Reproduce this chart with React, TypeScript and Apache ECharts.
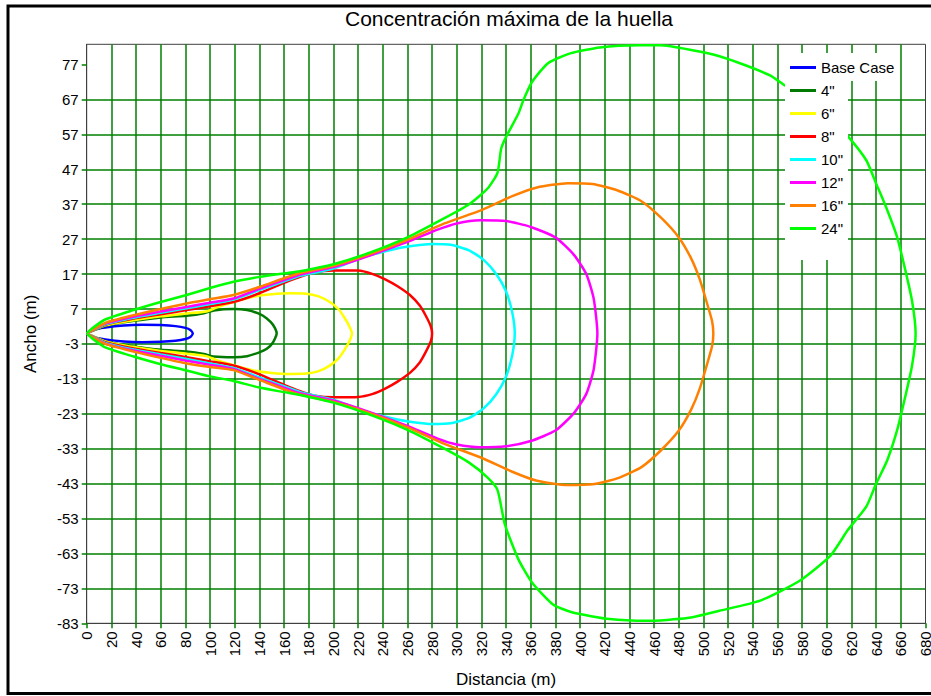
import { useEffect, useRef } from "react";
import * as echarts from "echarts";

const TITLE = "Concentración máxima de la huella";
const X_NAME = "Distancia (m)";
const Y_NAME = "Ancho (m)";
const X_MIN = 0;
const X_MAX = 680;
const X_STEP = 20;
const Y_TICKS = [-83, -73, -63, -53, -43, -33, -23, -13, -3, 7, 17, 27, 37, 47, 57, 67, 77];
const Y_TOP = 82.8;
const Y_STEP = 10;

const SERIES_NAMES = ["Base Case", '4"', '6"', '8"', '10"', '12"', '16"', '24"'];
const SERIES_COLORS = ["#0000ff", "#007a00", "#ffff00", "#ff0000", "#00ffff", "#ff00ff", "#ff8000", "#00ff00"];

const BASE_CASE = [[0,0],[5,1],[15,1.7],[30,2.3],[45,2.5],[60,2.4],[72,2.1],[80,1.6],[84,1],[86,0],[84,-1],[80,-1.6],[72,-2.1],[60,-2.4],[45,-2.5],[30,-2.3],[15,-1.7],[5,-1],[0,0]];
const PIPE_4 = [[0,0],[15,2.2],[38,3.6],[60,4.6],[81,5.1],[95,5.8],[103,6.6],[119,7],[130,6.7],[140,5.6],[146,4.3],[151,2.5],[154,0],[151,-2.6],[146,-4.4],[140,-5.4],[130,-6.5],[119,-6.8],[103,-6.6],[95,-5.9],[81,-5.2],[60,-4.7],[38,-3.7],[15,-2.3],[0,0]];
const PIPE_6 = [[0,0],[15,2.3],[38,3.8],[60,4.9],[81,5.7],[97,6.3],[105,7.4],[119,9],[135,10.5],[150,11.2],[165,11.5],[178,11.4],[188,10.6],[197,9],[204,7],[209,4.5],[213,2],[215,0],[213,-2.2],[209,-4.7],[204,-7.2],[197,-9.2],[188,-10.8],[178,-11.5],[165,-11.6],[150,-11.3],[135,-10.6],[119,-9.1],[105,-7.6],[97,-6.5],[81,-5.8],[60,-5],[38,-3.9],[15,-2.3],[0,0]];
const PIPE_8 = [[0,0],[15,2.5],[38,4.3],[60,5.5],[81,6.7],[100,7.8],[119,9],[140,11.5],[160,14.5],[173,16.2],[185,17.5],[200,18],[220,18],[232,17],[242,15.5],[252,13.5],[262,11],[270,8],[275,5],[279,2],[280,0],[279,-2.2],[275,-5.2],[270,-8.3],[262,-11.3],[252,-13.8],[242,-15.8],[232,-17.3],[220,-18.2],[200,-18.3],[185,-17.8],[173,-16.5],[160,-14.7],[140,-11.7],[119,-9.2],[100,-8],[81,-6.8],[60,-5.6],[38,-4.3],[15,-2.5],[0,0]];
const PIPE_10 = [[0,0],[15,2.6],[38,4.5],[60,5.9],[81,7.2],[100,8.4],[119,9.7],[140,12.4],[160,14.9],[173,16.5],[200,18.6],[225,21.9],[250,24.2],[265,25.1],[280,25.6],[295,25.4],[310,23.8],[322,21],[332,17],[340,12],[345,6],[347,0],[345,-6.2],[340,-12.3],[332,-17.4],[322,-21.4],[310,-24.2],[295,-25.7],[280,-25.9],[265,-25.4],[250,-24.5],[225,-22.2],[200,-19],[173,-16.8],[160,-15.1],[140,-12.6],[119,-9.9],[100,-8.6],[81,-7.3],[60,-6],[38,-4.6],[15,-2.7],[0,0]];
const PIPE_12 = [[0,0],[15,2.8],[38,4.8],[60,6.3],[81,7.6],[100,8.8],[119,10],[140,12.8],[160,15.3],[173,16.9],[200,19],[230,22.4],[260,26.2],[285,29.8],[300,31.5],[319,32.4],[340,32.2],[360,30.5],[380,27.5],[395,22.5],[405,17],[411,10],[414,0],[411,-10.3],[405,-17.3],[395,-22.8],[380,-27.8],[360,-30.8],[340,-32.3],[319,-32.6],[300,-31.8],[285,-30.2],[260,-26.5],[230,-22.6],[200,-19.2],[173,-17.1],[160,-15.5],[140,-13],[119,-10.2],[100,-9],[81,-7.8],[60,-6.4],[38,-4.9],[15,-2.9],[0,0]];
const PIPE_16 = [[0,0],[15,3],[38,5.2],[60,7],[81,8.6],[100,9.8],[119,11],[140,13.3],[160,15.8],[173,17.3],[200,19.4],[230,22.8],[260,26.8],[290,31.5],[320,35.3],[345,39.3],[365,41.8],[390,43],[410,42.8],[430,41],[450,37.8],[466,33],[480,27.5],[490,21.5],[497,15.5],[503,8.5],[507,3.5],[508,0],[507,-3.6],[503,-8.7],[497,-15.8],[490,-21.8],[480,-27.8],[466,-33.3],[450,-38.2],[430,-41.5],[410,-43.2],[390,-43.4],[365,-42.2],[345,-39.6],[320,-35.6],[290,-31.6],[260,-26.9],[230,-22.9],[200,-19.6],[173,-17.5],[160,-16],[140,-13.3],[119,-10.5],[100,-9.6],[81,-8.6],[60,-7],[38,-5.2],[15,-3],[0,0]];
const PIPE_24 = [[0,0],[5,1.6],[15,4],[38,6.7],[60,9],[81,11],[100,13],[119,14.8],[140,16.2],[160,17.2],[173,17.8],[200,19.8],[230,23.2],[260,27.5],[290,33],[310,37],[325,41.5],[333,46],[336,52.9],[340,56.3],[350,63],[354,66.8],[361,72],[374,77.4],[392,80.2],[416,81.9],[448,82.5],[465,82.5],[491,81.1],[513,79.4],[534,76.8],[554,73.9],[566,71],[578,68.5],[590,65.5],[602,62],[617,56.5],[632,49.6],[640,42.9],[648,36.2],[657,27.6],[663,19.1],[669,9.5],[672,0],[669,-9.4],[663,-19],[657,-27.7],[649,-36.3],[640,-43],[632,-49.6],[617,-56.3],[603,-63.6],[578,-70.8],[546,-76.5],[513,-79.4],[487,-81.5],[454,-82.3],[424,-81.8],[394,-79.9],[378,-77.6],[361,-71.3],[350,-64.7],[339,-54.7],[333,-44.8],[325,-41.3],[310,-37],[290,-33],[260,-27.6],[230,-23.3],[200,-19.8],[173,-17.6],[160,-16.8],[140,-15.5],[119,-13.6],[100,-12.3],[81,-10.6],[60,-8.8],[38,-6.6],[15,-4],[5,-1.6],[0,0]];

const SERIES_DATA = [BASE_CASE, PIPE_4, PIPE_6, PIPE_8, PIPE_10, PIPE_12, PIPE_16, PIPE_24];

const FONT = "'Liberation Sans', Arial, sans-serif";
const GRID_GREEN = "#008000";
const Y_BASE = Y_TICKS[0];

export default function App() {
  const ref = useRef<HTMLDivElement>(null);
  useEffect(() => {
    if (!ref.current) return;
    const chart = echarts.init(ref.current, null, { renderer: "svg" });
    const yTickValues = Y_TICKS.map((t) => t - Y_BASE);
    chart.setOption({
      animation: false,
      backgroundColor: "#ffffff",
      textStyle: { fontFamily: FONT },
      title: {
        text: TITLE,
        left: 509,
        top: 8,
        textAlign: "center",
        padding: 0,
        textStyle: { fontSize: 21, fontWeight: "normal", color: "#000", fontFamily: FONT },
      },
      grid: {
        left: 86.7,
        right: 5.5,
        top: 44.3,
        bottom: 72.7,
        containLabel: false,
        outerBoundsMode: "none",
        show: true,
        borderColor: "#404040",
        borderWidth: 1,
        backgroundColor: "transparent",
      },
      legend: {
        orient: "vertical",
        left: 790,
        top: 60,
        padding: 0,
        itemWidth: 26,
        itemHeight: 3,
        itemGap: 8,
        icon: "rect",
        selectedMode: false,
        data: SERIES_NAMES,
        textStyle: { fontSize: 15, color: "#000", fontFamily: FONT },
        z: 6,
      },
      xAxis: {
        type: "value",
        min: X_MIN,
        max: X_MAX,
        interval: X_STEP,
        name: X_NAME,
        nameLocation: "middle",
        nameGap: 48,
        nameTextStyle: { fontSize: 17, color: "#000", fontFamily: FONT },
        axisLine: { show: true, lineStyle: { color: "#404040", width: 1 } },
        axisTick: { show: true, length: 5, lineStyle: { color: GRID_GREEN, width: 1.5 } },
        axisLabel: { rotate: 90, margin: 8, fontSize: 15, color: "#000", fontFamily: FONT, hideOverlap: false },
        splitLine: { show: true, showMinLine: false, showMaxLine: false, lineStyle: { color: GRID_GREEN, width: 1.5 } },
      },
      yAxis: {
        type: "value",
        min: 0,
        max: Y_TOP - Y_BASE,
        interval: Y_STEP,
        name: Y_NAME,
        nameLocation: "middle",
        nameGap: 48,
        nameTextStyle: { fontSize: 17, color: "#000", fontFamily: FONT },
        axisLine: { show: true, lineStyle: { color: "#404040", width: 1 } },
        axisTick: { show: true, length: 5, customValues: yTickValues, lineStyle: { color: GRID_GREEN, width: 1.5 } },
        axisLabel: {
          margin: 8,
          fontSize: 15,
          color: "#000",
          fontFamily: FONT,
          customValues: yTickValues,
          hideOverlap: false,
          formatter: (v: number) => String(Math.round(v + Y_BASE)),
        },
        splitLine: { show: true, showMinLine: false, showMaxLine: false, lineStyle: { color: GRID_GREEN, width: 1.5 } },
      },
      graphic: [
        { type: "rect", z: 3, silent: true, shape: { x: 785, y: 53, width: 63, height: 207 }, style: { fill: "#ffffff" } },
        { type: "rect", z: 3, silent: true, shape: { x: 785, y: 53, width: 108, height: 28 }, style: { fill: "#ffffff" } },
        { type: "rect", z: 10, silent: true, shape: { x: 8, y: 6, width: 940, height: 687.5 }, style: { fill: "none", stroke: "#000", lineWidth: 3 } },
      ],
      series: SERIES_NAMES.map((name, i) => ({
        name,
        type: "line",
        data: SERIES_DATA[i].map(([x, y]) => [x, y - Y_BASE]),
        showSymbol: false,
        symbol: "none",
        smooth: 0.2,
        color: SERIES_COLORS[i],
        lineStyle: { color: SERIES_COLORS[i], width: 2.5 },
        z: 2,
        silent: true,
      })),
    });
    return () => chart.dispose();
  }, []);
  return <div ref={ref} style={{ position: "absolute", left: 0, top: 0, width: 931, height: 696 }} />;
}
